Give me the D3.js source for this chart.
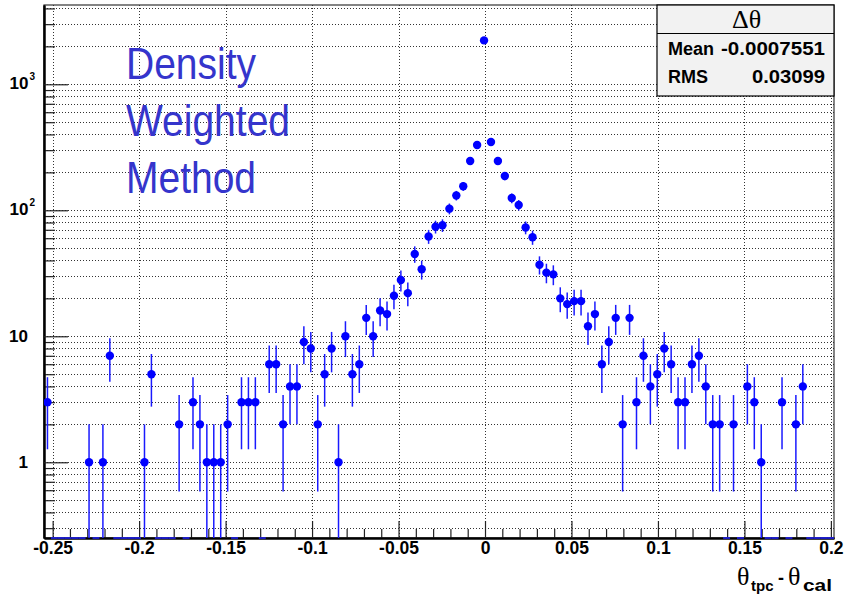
<!DOCTYPE html>
<html><head><meta charset="utf-8">
<script src="https://cdn.jsdelivr.net/npm/d3@7"></script>
<style>body{margin:0;background:#fff}</style>
</head><body><svg id="c" width="845" height="600"></svg>
<script>
// ---- data ----
const binCounts = [
  3,0,0,0,0,0,1,0,1,7,
  0,0,0,0,1,5,0,0,0,2,
  0,3,2,1,1,1,2,0,3,3,
  3,0,6,6,2,4,4,9,8,2,
  5,8,1,10,5,6,14,10,16,15,
  21,28,22,45,34,62,74,76,103,131,
  155,246,330,2230,348,246,187,125,110,73,
  61,37,32,31,20,18,19,19,12,15,
  6,9,14,2,14,3,7,4,5,8,
  6,3,3,6,7,4,2,2,0,2,
  0,4,3,1,0,0,3,0,2,4,
  0,0,0,0
];
const xRange = [-0.255, 0.2018];
const yRange = [0.2506, 4258];
const xMajorTicks = [-0.25,-0.2,-0.15,-0.1,-0.05,0,0.05,0.1,0.15,0.2];
const xTickLabels = ["-0.25","-0.2","-0.15","-0.1","-0.05","0","0.05","0.1","0.15","0.2"];
const yMajorTicks = [1,10,100,1000];
const yTickBase = ["1","10","10","10"];
const yTickExp = ["","","2","3"];
const statsTitle = "Δθ";
const statsNames = ["Mean","RMS"];
const statsValues = ["-0.0007551","0.03099"];
const labelLines = ["Density","Weighted","Method"];

// ---- layout ----
const W=845,H=600,L=44,R=834,T=5,B=538;
const sans="'Liberation Sans', Arial, Helvetica, sans-serif";
const serif="'Liberation Serif', 'Times New Roman', serif";
const svg=d3.select("#c");
svg.append("rect").attr("width",W).attr("height",H).attr("fill","#fff");

const x=d3.scaleLinear().domain(xRange).range([L,R]);
const y=d3.scaleLog().domain(yRange).range([B,T]);

const nb=binCounts.length, bw=(xRange[1]-xRange[0])/nb;
const bins=binCounts.map((c,i)=>({c,x0:xRange[0]+i*bw,xc:xRange[0]+(i+0.5)*bw,x1:xRange[0]+(i+1)*bw}));

// minor ticks
const yMinor=[];
[0.1,1,10,100,1000].forEach(d=>{for(let m=2;m<=9;m++){const v=d*m;if(v>=yRange[0]&&v<=yRange[1])yMinor.push(v);}});
const yAll=yMajorTicks.concat(yMinor);
const xMinor=d3.range(-25,21).map(k=>k/100).filter(v=>!xMajorTicks.some(t=>Math.abs(t-v)<1e-9));

// grid
const grid=svg.append("g").attr("stroke","#333").attr("stroke-width",1).attr("stroke-dasharray","1,2");
grid.selectAll("line.h").data(yAll).join("line").attr("class","h")
  .attr("x1",L).attr("x2",R).attr("y1",d=>Math.round(y(d))+0.5).attr("y2",d=>Math.round(y(d))+0.5);
grid.selectAll("line.v").data(xMajorTicks).join("line").attr("class","v")
  .attr("y1",T).attr("y2",B).attr("x1",d=>Math.round(x(d))+0.5).attr("x2",d=>Math.round(x(d))+0.5);

// frame
svg.append("rect").attr("x",L).attr("y",T).attr("width",R-L).attr("height",B-T)
  .attr("fill","none").attr("stroke","#333").attr("stroke-width",1.2);

// axes (ticks inward)
const gxMin=svg.append("g").attr("transform",`translate(0,${B})`)
  .call(d3.axisBottom(x).tickValues(xMinor).tickSizeInner(-9).tickSizeOuter(0).tickFormat(""));
const gx=svg.append("g").attr("transform",`translate(0,${B})`)
  .call(d3.axisBottom(x).tickValues(xMajorTicks).tickSizeInner(-17).tickSizeOuter(0).tickPadding(4)
     .tickFormat((d,i)=>xTickLabels[i]));
const gyMin=svg.append("g").attr("transform",`translate(${L},0)`)
  .call(d3.axisLeft(y).tickValues(yMinor).tickSizeInner(-11).tickSizeOuter(0).tickFormat(""));
const gy=svg.append("g").attr("transform",`translate(${L},0)`)
  .call(d3.axisLeft(y).tickValues(yMajorTicks).tickSizeInner(-24).tickSizeOuter(0).tickFormat(""));
[gxMin,gx,gyMin,gy].forEach(g=>{g.selectAll(".tick line").attr("stroke","#222").attr("stroke-width",1.2);
  g.select(".domain").attr("stroke","#000").attr("stroke-width",2);});
gx.selectAll(".tick text").attr("font-family",sans).attr("font-weight","bold").attr("font-size",17.5).attr("fill","#000");

// y labels
const yl=svg.append("g").attr("font-family",sans).attr("font-weight","bold").attr("fill","#000");
yMajorTicks.forEach((v,i)=>{
  const yy=y(v);
  if(!yTickExp[i]){
    yl.append("text").attr("x",28).attr("y",yy+6).attr("text-anchor","end").attr("font-size",17).text(yTickBase[i]);
  } else {
    const t=yl.append("text").attr("x",9.5).attr("y",yy+5).attr("font-size",17);
    t.append("tspan").text(yTickBase[i]);
    t.append("tspan").attr("font-size",10).attr("dy",-9).attr("dx",1).text(yTickExp[i]);
  }
});

// data
svg.append("clipPath").attr("id","clip").append("rect").attr("x",L).attr("y",T).attr("width",R-L).attr("height",B-T);
const plot=svg.append("g").attr("clip-path","url(#clip)");
const nz=bins.filter(d=>d.c>0);
plot.selectAll("line.err").data(nz).join("line").attr("class","err")
  .attr("x1",d=>x(d.xc)).attr("x2",d=>x(d.xc))
  .attr("y1",d=>{const lo=d.c-Math.sqrt(d.c);return lo>yRange[0]?y(lo):B+2;})
  .attr("y2",d=>y(d.c+Math.sqrt(d.c)))
  .attr("stroke","#1a1aff").attr("stroke-width",1.5);
plot.selectAll("circle").data(nz).join("circle")
  .attr("cx",d=>x(d.xc)).attr("cy",d=>y(d.c)).attr("r",4.2).attr("fill","#0000ff");
svg.append("g").selectAll("line").data(bins.filter(d=>d.c===0)).join("line")
  .attr("x1",d=>x(d.x0)).attr("x2",d=>x(d.x1)).attr("y1",B).attr("y2",B)
  .attr("stroke","#2020ff").attr("stroke-width",1.5);

// big label
const lbl=svg.append("g").attr("fill","#3535cc").attr("font-family",sans).attr("font-size",39);
const baselines=[79,136,193];
labelLines.forEach((s,i)=>{
  lbl.append("text").attr("transform",`translate(126,${baselines[i]}) scale(1,1.16)`).text(s);
});

// stats box
const sb=svg.append("g");
sb.append("rect").attr("x",657).attr("y",T).attr("width",R-657).attr("height",91)
  .attr("fill","#f2f2f2").attr("stroke","#000").attr("stroke-width",1.2);
sb.append("line").attr("x1",657).attr("x2",R).attr("y1",33.5).attr("y2",33.5).attr("stroke","#000").attr("stroke-width",1.2);
sb.append("text").attr("x",746.5).attr("y",28).attr("text-anchor","middle").attr("font-family",serif)
  .attr("font-size",26).attr("fill","#000").text(statsTitle);
const rowY=[55,83];
const valLen=[104,73];
statsNames.forEach((n,i)=>{
  sb.append("text").attr("x",668).attr("y",rowY[i]).attr("font-family",sans).attr("font-weight","bold")
    .attr("font-size",18).attr("fill","#000").text(n);
  sb.append("text").attr("x",825-valLen[i]).attr("y",rowY[i]).attr("font-family",sans).attr("font-weight","bold")
    .attr("font-size",18).attr("fill","#000").attr("textLength",valLen[i]).attr("lengthAdjust","spacingAndGlyphs").text(statsValues[i]);
});

// x axis title: θ_tpc - θ_cal
const xt=svg.append("g").attr("fill","#000");
xt.append("text").attr("x",737).attr("y",585).attr("font-family",serif).attr("font-size",26).text("θ");
xt.append("text").attr("x",751).attr("y",591).attr("font-family",sans).attr("font-weight","bold").attr("font-size",15).text("tpc");
xt.append("text").attr("x",778).attr("y",584).attr("font-family",sans).attr("font-weight","bold").attr("font-size",18).text("-");
xt.append("text").attr("x",788).attr("y",585).attr("font-family",serif).attr("font-size",26).text("θ");
xt.append("text").attr("x",803).attr("y",591).attr("font-family",sans).attr("font-weight","bold").attr("font-size",16)
  .attr("textLength",29).attr("lengthAdjust","spacingAndGlyphs").text("cal");
</script></body></html>
